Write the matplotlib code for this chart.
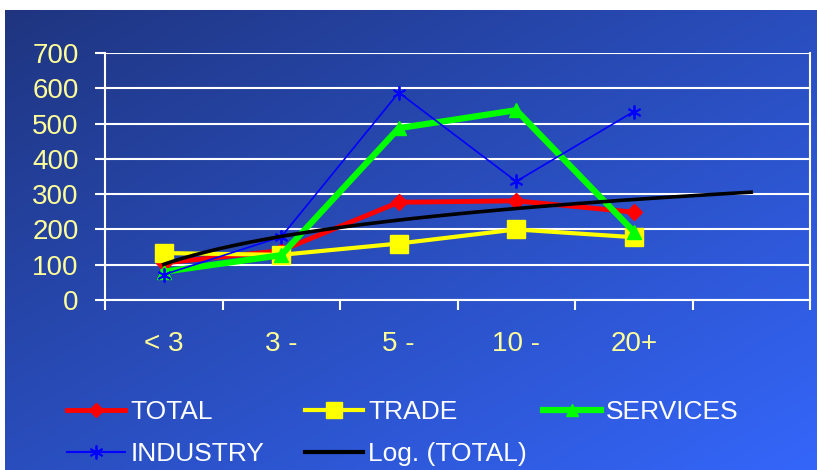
import numpy as np
import matplotlib.pyplot as plt
from matplotlib.lines import Line2D

plt.rcParams['font.family'] = ['Liberation Sans', 'DejaVu Sans']

categories = ["< 3", "3 -", "5 -", "10 -", "20+"]
total = [105, 140, 277, 281, 249]
trade = [133, 128, 160, 200, 178]
services = [80, 127, 487, 538, 194]
industry = [72, 179, 588, 336, 534]

W, H = 817, 470
fig = plt.figure(figsize=(W / 100, H / 100), dpi=100)
fig.patch.set_facecolor("white")

# diagonal blue gradient behind everything
bg = fig.add_axes([5 / W, 0, (W - 5) / W, (H - 10) / H], zorder=-10)
bg.axis("off")
gx, gy = np.meshgrid(np.linspace(0, 1, 200), np.linspace(0, 1, 200))
t = np.clip((gx + gy) / 2, 0, 1)
c0 = np.array([31, 53, 128]) / 255
c1 = np.array([52, 102, 250]) / 255
img = c0[None, None, :] * (1 - t[..., None]) + c1[None, None, :] * t[..., None]
bg.imshow(img, aspect="auto", extent=[0, 1, 0, 1], origin="upper")

left, right, top, bottom = 105, 810, 53, 300
ax = fig.add_axes([left / W, (H - bottom) / H, (right - left) / W, (bottom - top) / H])
ax.patch.set_alpha(0)

x = np.arange(1, len(categories) + 1)
ax.plot(x, total, color="#ff0000", lw=3.5, marker="D", ms=8, mec="#ff0000", zorder=3)
ax.plot(x, trade, color="#ffff00", lw=3, marker="s", ms=13, mec="#ffff00", zorder=4)
ax.plot(x, services, color="#00ff00", lw=4.5, marker="^", ms=10, mec="#00ff00", zorder=5)
ax.plot(x, industry, color="#0000ff", lw=1.2, marker=(6, 2, 0), ms=10, mew=1.3,
        mec="#0000ff", zorder=6)

# logarithmic trend of TOTAL, projected one period ahead
a, b = np.polyfit(np.log(x), total, 1)
xt = np.linspace(1, len(categories) + 1, 200)
ax.plot(xt, a * np.log(xt) + b, color="black", lw=2.6, zorder=7)

ax.set_xlim(0.5, len(categories) + 1.5)
ax.set_ylim(0, 700)
ax.set_yticks(np.arange(0, 701, 100))
ax.set_xticks(np.arange(0.5, len(categories) + 1.6, 1))
ax.set_xticklabels([])
ax.set_xticks(x, minor=True)
ax.set_xticklabels(categories, minor=True)
ax.grid(axis="y", color="white", lw=1.5)
ax.set_axisbelow(True)
for s in ax.spines.values():
    s.set_color("white")
    s.set_linewidth(1.5)
ax.spines["top"].set_visible(False)
ax.tick_params(axis="y", colors="white", labelcolor="#ffff99", labelsize=20,
               length=7, width=1.5, pad=12)
ax.tick_params(axis="x", which="major", colors="white", length=7, width=1.5)
ax.tick_params(axis="x", which="minor", length=0, labelcolor="#ffff99",
               labelsize=20, pad=22)

entries = [
    ("TOTAL", dict(color="#ff0000", lw=3.5, marker="D", ms=7), 67, 412),
    ("TRADE", dict(color="#ffff00", lw=3, marker="s", ms=12), 305, 412),
    ("SERVICES", dict(color="#00ff00", lw=4.5, marker="^", ms=9), 543, 412),
    ("INDUSTRY", dict(color="#0000ff", lw=1.5, marker=(6, 2, 0), ms=10, mew=1.3), 67, 454),
    ("Log. (TOTAL)", dict(color="black", lw=3), 305, 454),
]
for label, style, px, py in entries:
    h = Line2D([], [], **style)
    fig.legend([h], [label], loc="center left",
               bbox_to_anchor=(px / W, 1 - py / H), frameon=False,
               fontsize=19, labelcolor="white", handlelength=2.2,
               handletextpad=0.2, borderpad=0, borderaxespad=0)

fig.savefig("out.png", dpi=100)
